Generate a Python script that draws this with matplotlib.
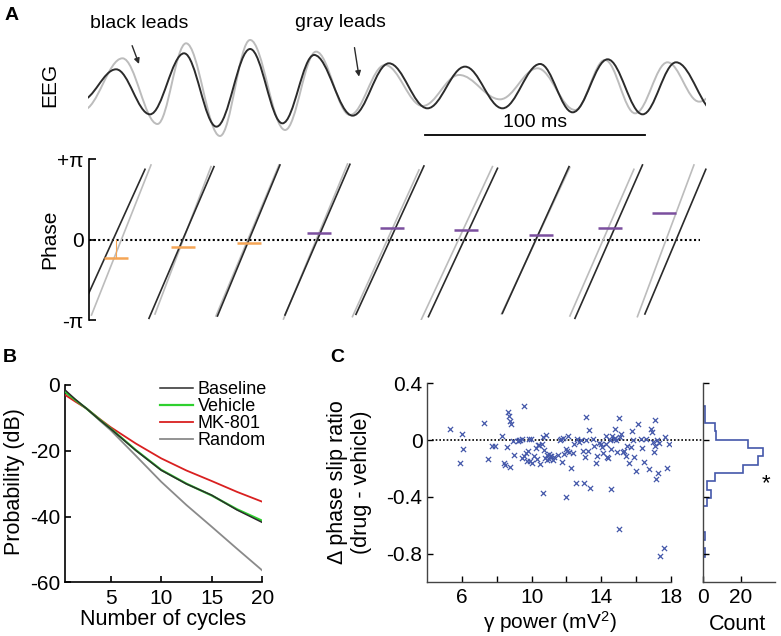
import numpy as np
import matplotlib
matplotlib.use('Agg')
import matplotlib.pyplot as plt
from matplotlib.path import Path
from matplotlib.patches import PathPatch

plt.rcParams['font.family'] = ['Liberation Sans', 'DejaVu Sans']
plt.rcParams['axes.unicode_minus'] = False
plt.rcParams['mathtext.fontset'] = 'custom'
plt.rcParams['mathtext.rm'] = 'Liberation Sans'
plt.rcParams['mathtext.it'] = 'Liberation Sans:italic'

W, H = 781, 636

# ---------------- data ----------------
# A: EEG trace extrema (time in ms, amplitude in a.u.)
black_t = [-3, 13.0, 28.4, 43.9, 58.6, 73.9, 88.6, 103.0, 120.5, 137.0, 154.5,
           171.6, 188.6, 205.7, 220.5, 236.4, 252.3, 267.5, 286]
black_a = [-21, 26, -41.5, 50, -60, 56.5, -55, 47.5, -43.5, 35, -32.5,
           30, -32.5, 34, -38.5, 41, -41.5, 36.5, -40]
gray_t = [-2, 15.9, 31.8, 44.8, 60.2, 73.9, 89.8, 103.9, 119.3, 135.2, 152.3,
          168.9, 187.5, 204.5, 221.6, 235.2, 248.9, 263.6, 278.0, 295]
gray_a = [-35, 42.5, -56, 65, -74, 70, -65, 52.5, -42.5, 32.5, -29,
          17.5, -19, 27.5, -35, 40, -40, 36.5, -22.5, 30]

# A: phase ramps, one per cycle (start t, start phase, end t, end phase)
black_ramp_t0 = [0.0, 27.95, 59.09, 89.77, 122.05, 155.0, 188.6, 221.6, 253.4]
black_ramp_p0 = [-2.203, -3.076, -2.985, -2.946, -2.920, -3.011, -2.881, -3.076, -2.907]
black_ramp_t1 = [26.14, 57.5, 87.5, 119.3, 152.95, 186.4, 218.9, 252.3, 281.1]
black_ramp_p1 = [2.750, 2.855, 2.920, 2.946, 2.881, 2.790, 2.855, 2.920, 2.750]
gray_ramp_t0 = [1.82, 30.68, 58.4, 89.1, 120.45, 151.8, 188.2, 219.3, 250.0]
gray_ramp_p0 = [-2.946, -2.907, -2.985, -3.103, -3.011, -3.116, -2.907, -2.985, -3.011]
gray_ramp_t1 = [28.86, 56.14, 87.05, 118.2, 150.7, 184.1, 219.3, 248.4, 275.7]
gray_ramp_p1 = [2.920, 2.855, 2.920, 2.959, 2.725, 2.855, 2.828, 2.750, 2.920]

# A: phase difference per cycle
diff_t = [12.84, 43.5, 73.3, 105.3, 138.6, 171.9, 206.0, 237.5, 261.9]
diff_p = [-0.704, -0.274, -0.117, 0.274, 0.443, 0.378, 0.196, 0.443, 1.03]

# B: probability of phase-locked runs
cycles = [0.5, 1.5, 2.6, 4, 5, 7.5, 10, 12.5, 15, 17.5, 20]
baseline = [-1.5, -4.3, -7.1, -10.8, -13.3, -19.9, -25.9, -30.1, -33.5, -38.0, -41.8]
vehicle = [-2.0, -4.5, -7.1, -10.7, -13.2, -19.8, -25.8, -30.0, -33.6, -37.8, -41.3]
mk801 = [-3.0, -5.0, -7.1, -10.5, -12.8, -17.8, -22.3, -26.0, -29.2, -32.5, -35.5]
random_ = [-2.3, -4.8, -7.1, -11.0, -13.7, -21.5, -29.4, -36.5, -43.1, -49.8, -56.4]

# C: scatter of gamma power vs delta phase slip ratio
gamma_power = [5.33, 6.0, 6.04, 5.88, 7.27, 7.48, 7.7, 7.87, 8.29, 8.58, 8.66, 8.7, 8.77, 8.83,
               8.39, 8.47, 8.76, 8.99, 8.93, 9.2, 9.28, 9.35, 9.43, 9.58, 9.45, 9.55, 9.66, 9.74,
               9.8, 9.87, 9.95, 10.0, 10.16, 10.24, 10.34, 10.43, 10.49, 10.57, 10.68, 10.74,
               10.78, 10.84, 10.87, 10.91, 10.99, 11.07, 11.14, 11.22, 11.51, 11.61, 11.68, 11.76,
               11.82, 11.86, 11.95, 12.03, 12.09, 12.17, 12.26, 12.45, 12.55, 12.71, 12.84, 12.94,
               13.0, 13.05, 13.11, 13.15, 13.23, 13.3, 13.36, 13.53, 13.71, 13.78, 13.88, 13.98,
               14.05, 14.25, 14.29, 14.34, 14.42, 14.5, 14.54, 14.56, 14.61, 14.71, 14.77, 14.81,
               14.86, 14.94, 15.0, 15.04, 15.11, 15.17, 15.27, 15.34, 15.42, 15.46, 15.6, 15.75,
               15.85, 15.88, 15.98, 16.13, 16.27, 16.37, 16.46, 16.75, 16.85, 16.94, 17.0, 17.04,
               17.1, 17.12, 17.16, 17.19, 17.27, 17.33, 17.37, 17.62, 17.7, 17.77, 17.93, 10.64,
               11.95, 11.3, 11.0, 12.4, 13.6, 14.1, 16.6, 15.7, 9.9, 10.3, 12.6]
slip_diff = [0.08, 0.045, -0.063, -0.165, 0.12, -0.13, -0.044, -0.04, 0.028, -0.051, 0.198, 0.172,
             0.137, 0.112, -0.165, -0.174, -0.193, -0.105, -0.007, -0.009, -0.002, 0.0, 0.005,
             0.242, -0.123, -0.112, -0.088, -0.149, -0.077, 0.007, 0.005, -0.16, -0.112, -0.056,
             -0.037, -0.035, -0.167, -0.03, 0.023, -0.067, -0.126, 0.033, -0.14, -0.107, -0.133,
             -0.114, -0.112, -0.142, -0.107, 0.0, 0.007, -0.158, 0.012, -0.1, -0.06, -0.074, 0.028,
             -0.084, -0.198, -0.03, -0.3, -0.016, 0.0, -0.077, -0.3, -0.116, 0.16, 0.0, -0.074,
             0.074, -0.335, 0.007, -0.163, -0.114, -0.023, -0.03, -0.051, 0.028, -0.026, -0.116,
             -0.126, 0.0, -0.06, -0.347, 0.028, 0.007, 0.079, 0.012, 0.0, -0.086, -0.626, 0.153,
             0.023, 0.042, -0.081, -0.079, -0.109, -0.04, -0.16, 0.067, 0.0, -0.119, -0.221, 0.112,
             0.007, -0.053, -0.153, -0.207, 0.081, 0.06, -0.012, -0.084, 0.142, -0.044, -0.272,
             0.0, -0.233, -0.023, -0.814, -0.76, 0.019, -0.195, -0.028, -0.37, -0.398, -0.12,
             -0.1, -0.09, -0.04, -0.09, 0.01, -0.05, -0.15, -0.13, 0.01]

# C: histogram of slip ratio differences
hist_edges = [-0.822, -0.763, -0.704, -0.645, -0.586, -0.527, -0.468, -0.409, -0.35, -0.291,
              -0.232, -0.173, -0.114, -0.055, 0.004, 0.063, 0.122, 0.181, 0.24]
hist_counts = [1, 0, 1, 0, 0, 0, 2, 4, 2, 6, 21, 29, 32, 24, 7, 6, 1, 1]

# ---------------- figure ----------------
fig = plt.figure(figsize=(W / 100, H / 100), dpi=100)


def box(l, t, r, b):
    return [l / W, 1 - b / H, (r - l) / W, (b - t) / H]


def smooth(t, a):
    # bezier curve through the extrema, flat at each peak / trough
    verts = [(t[0], a[0])]
    codes = [Path.MOVETO]
    for i in range(1, len(t)):
        dt = t[i] - t[i - 1]
        verts += [(t[i - 1] + 0.363 * dt, a[i - 1]), (t[i] - 0.363 * dt, a[i]), (t[i], a[i])]
        codes += [Path.CURVE4] * 3
    return Path(verts, codes)


def figtext(x, y, s, **kw):
    fig.text(x / W, 1 - y / H, s, **kw)


dark = '#2b2b2b'
light = '#bcbcbc'
blue = '#4458aa'
TICK = 15
LAB = 15.5

# ---- A: EEG ----
ax = fig.add_axes(box(87.5, 33.3, 706, 140))
ax.set_xlim(0, 281.1)
ax.set_ylim(-80, 80)
ax.axis('off')
ax.add_patch(PathPatch(smooth(gray_t, gray_a), fill=False, ec=light, lw=1.4))
ax.add_patch(PathPatch(smooth(black_t, black_a), fill=False, ec=dark, lw=1.4))
ax.annotate('black leads', xy=(23.4, 34), xytext=(23.4, 94), ha='center', va='center',
            fontsize=14, annotation_clip=False,
            arrowprops=dict(arrowstyle='-|>', color=dark, lw=1, mutation_scale=8,
                            shrinkA=8, shrinkB=0, relpos=(0.38, 0)))
ax.annotate('gray leads', xy=(123.4, 15), xytext=(114.8, 96), ha='center', va='center',
            fontsize=14, annotation_clip=False,
            arrowprops=dict(arrowstyle='-|>', color=dark, lw=1, mutation_scale=8,
                            shrinkA=10, shrinkB=0, relpos=(0.63, 0)))
ax.plot([153.4, 253.4], [-72.5, -72.5], color='black', lw=1.3, clip_on=False)
ax.text(203.4, -66, '100 ms', ha='center', va='bottom', fontsize=14)
figtext(50, 85, 'EEG', rotation=90, ha='center', va='center', fontsize=15)

# ---- A: phase ----
ax = fig.add_axes(box(89, 159.3, 710, 320))
ax.set_xlim(0.68, 283)
ax.set_ylim(-np.pi, np.pi)
for s in ['top', 'right', 'bottom']:
    ax.spines[s].set_visible(False)
ax.spines['left'].set_linewidth(1.2)
ax.set_xticks([])
ax.set_yticks([-np.pi, 0, np.pi])
ax.set_yticklabels(['-π', '0', '+π'])
ax.tick_params(axis='y', direction='in', length=5, width=1.2, labelsize=TICK, pad=4)
ax.plot([0.68, 278.4], [0, 0], ls=(0, (1, 1.2)), color='black', lw=1.5)
for i in range(len(gray_ramp_t0)):
    ax.plot([gray_ramp_t0[i], gray_ramp_t1[i]], [gray_ramp_p0[i], gray_ramp_p1[i]],
            color=light, lw=1.2)
for i in range(len(black_ramp_t0)):
    ax.plot([black_ramp_t0[i], black_ramp_t1[i]], [black_ramp_p0[i], black_ramp_p1[i]],
            color=dark, lw=1.2)
diff_colors = ['#f5a555' if p < 0 else '#7b4f9e' for p in diff_p]
ax.plot([diff_t[0], diff_t[0]], [0, diff_p[0]], color='#f5a555', lw=0.8)
for t, p, c in zip(diff_t, diff_p, diff_colors):
    ax.plot(t, p, marker='_', ms=17, mew=1.8, color=c)
figtext(50, 239, 'Phase', rotation=90, ha='center', va='center', fontsize=15)

# ---- B ----
ax = fig.add_axes(box(65, 385, 262.3, 582.3))
ax.plot(cycles, random_, color='#8a8a8a', lw=1.3, label='Random', zorder=2)
ax.plot(cycles, mk801, color='#d92020', lw=1.3, label='MK-801', zorder=3)
ax.plot(cycles, vehicle, color='#2fd02f', lw=1.6, label='Vehicle', zorder=4)
ax.plot(cycles, baseline, color=dark, lw=1.1, label='Baseline', zorder=5)
ax.set_xlim(0.5, 20)
ax.set_ylim(-60, 0)
ax.set_xticks([5, 10, 15, 20])
ax.set_yticks([0, -20, -40, -60])
for s in ['top', 'right']:
    ax.spines[s].set_visible(False)
for s in ['left', 'bottom']:
    ax.spines[s].set_linewidth(1.2)
ax.tick_params(direction='in', length=4, width=1.2, labelsize=TICK)
ax.tick_params(axis='x', pad=5)
ax.tick_params(axis='y', pad=3.5)
h, l = ax.get_legend_handles_labels()
order = [3, 2, 1, 0]
ax.legend([h[i] for i in order], [l[i] for i in order], loc='upper left',
          bbox_to_anchor=(160 / W, 1 - 381 / H), bbox_transform=fig.transFigure,
          frameon=False, fontsize=13, handlelength=1.85, handletextpad=0.25,
          labelspacing=0.0, borderpad=0, borderaxespad=0)
figtext(15, 482, 'Probability (dB)', rotation=90, ha='center', va='center', fontsize=LAB)
figtext(163, 620, 'Number of cycles', ha='center', va='center', fontsize=LAB)

# ---- C scatter ----
ax = fig.add_axes(box(427.3, 383.3, 670.7, 582))
ax.scatter(gamma_power, slip_diff, marker='x', s=14, lw=0.9, color=blue, zorder=3)
ax.set_xlim(4, 18)
ax.set_ylim(-1.0, 0.4)
ax.set_xticks([6, 10, 14, 18])
ax.set_xticks([8, 12, 16], minor=True)
ax.set_yticks([0.4, 0, -0.4, -0.8])
ax.set_yticklabels(['0.4', '0', '-0.4', '-0.8'])
for s in ['top', 'right']:
    ax.spines[s].set_visible(False)
for s in ['left', 'bottom']:
    ax.spines[s].set_linewidth(1.0)
    ax.spines[s].set_color('#444444')
ax.tick_params(which='both', direction='in', length=4, width=1.0, labelsize=TICK)
ax.tick_params(axis='x', pad=4.5)
ax.tick_params(axis='y', pad=3.5)
ax.plot([0.02, 1.433], [0, 0], transform=ax.get_yaxis_transform(), ls=(0, (1, 1.2)),
        color='black', lw=1.2, clip_on=False)
figtext(349.5, 482, 'Δ phase slip ratio\n(drug - vehicle)', rotation=90, ha='center',
        va='center', fontsize=LAB, multialignment='center', linespacing=1.15)
figtext(550, 622, r'γ power (mV$^2$)', ha='center', va='center', fontsize=15)

# ---- C histogram ----
ax = fig.add_axes(box(703.3, 383.3, 775, 582))
ax.stairs(hist_counts, hist_edges, orientation='horizontal', color=blue, lw=1.2)
ax.set_xlim(0, 38.3)
ax.set_ylim(-1.0, 0.4)
ax.set_xticks([0, 20])
ax.set_yticks([0.4, 0, -0.4, -0.8])
ax.set_yticklabels([])
for s in ['top', 'right']:
    ax.spines[s].set_visible(False)
for s in ['left', 'bottom']:
    ax.spines[s].set_linewidth(1.0)
    ax.spines[s].set_color('#444444')
ax.tick_params(direction='in', length=4, width=1.0, labelsize=TICK)
ax.tick_params(axis='x', pad=4.5)
ax.text(33.5, -0.31, '*', ha='center', va='center', fontsize=16)
figtext(738, 624, 'Count', ha='center', va='center', fontsize=LAB)

# panel letters
figtext(12, 16, 'A', ha='center', va='center', fontsize=14, fontweight='bold')
figtext(10, 358, 'B', ha='center', va='center', fontsize=14, fontweight='bold')
figtext(337, 357, 'C', ha='center', va='center', fontsize=14, fontweight='bold')

fig.savefig('out.png', dpi=100)
